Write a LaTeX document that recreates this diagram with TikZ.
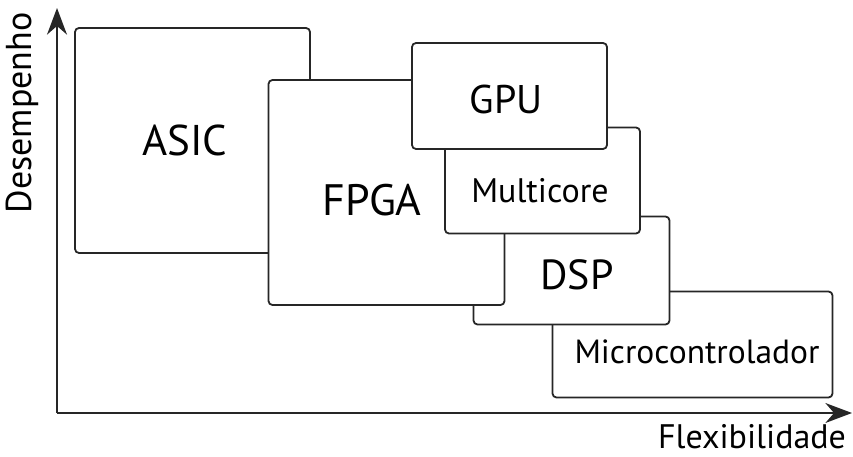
\documentclass[tikz,border=0pt]{standalone}
\usepackage{fontspec}
\setmainfont{PT Sans}
\usetikzlibrary{arrows.meta}

\begin{document}
\begin{tikzpicture}[x=1pt,y=-1pt,
	bloco/.style={draw=black!85, line width=1.8pt, fill=white, rounded corners=4pt, inner sep=0pt},
	eixo/.style={draw=black!85, line width=1.8pt},
	rotulo/.style={font=\fontsize{#1}{#1}\selectfont, text=black, inner sep=0pt}]

			\useasboundingbox (0,0) rectangle (853,457);

			\coordinate (origem) at (57,413);
			\coordinate (topo) at (57,8);
			\coordinate (fim) at (852,413);

			\draw[eixo, -{Stealth[scale=2.4]}] (origem) -- (topo);
			\draw[eixo, -{Stealth[scale=2.4]}] (origem) -- (fim);

			\node[rotulo=36, rotate=90] (eixoy) at (22,113) {Desempenho};
			\node[rotulo=34] (eixox) at (752,437) {Flexibilidade};

			\node[bloco, minimum width=235pt, minimum height=225pt] (asic) at (192.5,140.5) {};
			\node[rotulo=43] at (185,140) {ASIC};

			\node[bloco, minimum width=280pt, minimum height=106pt] (micro) at (692.5,344.5) {};
			\node[rotulo=33.5] at (697,352) {Microcontrolador};

			\node[bloco, minimum width=196pt, minimum height=108pt] (dsp) at (571.5,270.5) {};
			\node[rotulo=42] at (577,275) {DSP};

			\node[bloco, minimum width=236pt, minimum height=225pt] (fpga) at (386.5,192.5) {};
			\node[rotulo=44] at (372,200) {FPGA};

			\node[bloco, minimum width=195pt, minimum height=106pt] (multicore) at (542.5,180.5) {};
			\node[rotulo=34] at (540,191) {Multicore};

			\node[bloco, minimum width=195pt, minimum height=106pt] (gpu) at (509.5,96) {};
			\node[rotulo=40] at (506,100) {GPU};

		\end{tikzpicture}
\end{document}
